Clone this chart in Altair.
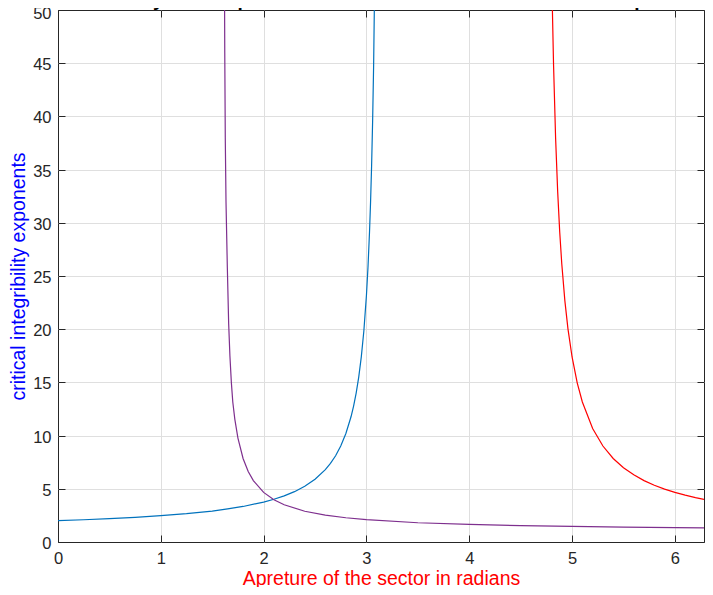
import altair as alt
import pandas as pd

# ---- data ----
blue_x = [0.0, 0.25, 0.5, 0.75, 1.0, 1.25, 1.5, 1.65, 1.8, 2.0, 2.1, 2.2, 2.3, 2.4, 2.5, 2.6,
          2.65, 2.7, 2.75, 2.8, 2.85, 2.875, 2.9, 2.925, 2.95, 2.975, 3.0, 3.015, 3.03, 3.04,
          3.05, 3.06, 3.07, 3.085]
blue_y = [2.00, 2.09, 2.19, 2.31, 2.47, 2.66, 2.91, 3.11, 3.34, 3.75, 4.02, 4.34, 4.73, 5.24, 5.90, 6.80,
          7.39, 8.11, 9.02, 10.20, 11.77, 12.78, 14.00, 15.50, 17.40, 19.86, 23.19, 25.82, 29.15, 31.92,
          35.30, 39.50, 44.88, 56.5]

purple_x = [1.618, 1.622, 1.627, 1.634, 1.647, 1.66, 1.672, 1.686, 1.70, 1.72, 1.75, 1.8, 1.85, 1.9,
            2.0, 2.1, 2.2, 2.4, 2.6, 2.8, 3.0, 3.5, 4.0, 4.5, 5.0, 5.5, 6.0, 6.2832]
purple_y = [56.0, 46.0, 38.0, 32.0, 25.8, 20.5, 17.5, 15.0, 13.16, 11.53, 9.77, 7.85, 6.63, 5.77,
            4.66, 3.97, 3.50, 2.89, 2.53, 2.28, 2.10, 1.81, 1.65, 1.54, 1.46, 1.40, 1.35, 1.33]

red_x = [4.800, 4.808, 4.82, 4.84, 4.86, 4.88, 4.9, 4.93, 4.96, 5.0, 5.05, 5.1, 5.2, 5.3, 5.4, 5.5,
         5.6, 5.7, 5.8, 5.9, 6.0, 6.1, 6.2, 6.2832]
red_y = [54.8, 50.3, 44.8, 37.93, 32.93, 29.12, 26.12, 22.66, 20.03, 17.39, 14.96, 13.16, 10.66, 9.02,
         7.85, 6.98, 6.31, 5.77, 5.33, 4.97, 4.66, 4.40, 4.17, 4.00]

series_names = ["blue", "purple", "red"]
series_colors = ["#0072BD", "#7E2F8E", "#FF0000"]

x_ticks = [0, 1, 2, 3, 4, 5, 6]
y_ticks = [0, 5, 10, 15, 20, 25, 30, 35, 40, 45, 50]
x_domain = [0, 6.283185307]
y_domain = [0, 50]

title_text = "Invertibility of the operator T in the case of the sector for the Laplacian"
x_title = "Apreture of the sector in radians"
y_title = "critical integribility exponents"

rows = []
for name, xs, ys in zip(series_names, [blue_x, purple_x, red_x], [blue_y, purple_y, red_y]):
    for i, (a, b) in enumerate(zip(xs, ys)):
        rows.append({"series": name, "order": i, "x": a, "y": b})
df = pd.DataFrame(rows)

FONT = "Liberation Sans"
AX = "#262626"
GRID = "#dfdfdf"

xscale = alt.Scale(domain=x_domain, nice=False, zero=False)
yscale = alt.Scale(domain=y_domain, nice=False, zero=False)

main_x_axis = alt.Axis(
    values=x_ticks, format="d", grid=True, gridColor=GRID, gridWidth=1,
    gridOpacity={"condition": {"test": "datum.value === 0", "value": 0}, "value": 1},
    ticks=False, tickSize=0, domain=False, labelPadding=8, labelFontSize=16.5,
    labelColor=AX, labelFont=FONT, labelFlush=False, labelOverlap=False,
    titleColor="#FF0000", titleFontSize=19.5, titleFontWeight="normal", titleFont=FONT,
    titleY=42, titleBaseline="alphabetic", zindex=0,
)
main_y_axis = alt.Axis(
    values=y_ticks, format="d", grid=True, gridColor=GRID, gridWidth=1,
    gridOpacity={"condition": {"test": "datum.value === 0 || datum.value === 50", "value": 0}, "value": 1},
    ticks=False, tickSize=0, domain=False, labelPadding=7, labelFontSize=16.5,
    labelOffset={"condition": {"test": "datum.value === 50", "value": 3.5}, "value": 1.5},
    labelColor=AX, labelFont=FONT, labelFlush=False, labelOverlap=False,
    titleColor="#0000FF", titleFontSize=19.5, titleFontWeight="normal", titleFont=FONT,
    titleX=-34, titleBaseline="alphabetic", zindex=0,
)

lines = alt.Chart(df).mark_line(strokeWidth=1.2, clip=True).encode(
    x=alt.X("x:Q", scale=xscale, axis=main_x_axis, title=x_title),
    y=alt.Y("y:Q", scale=yscale, axis=main_y_axis, title=y_title),
    color=alt.Color("series:N", scale=alt.Scale(domain=series_names, range=series_colors), legend=None),
    order="order:Q",
)


def tick_axis(orient, values):
    return alt.Axis(orient=orient, values=values, offset=-7, tickSize=7, ticks=True,
                    tickColor=AX, tickWidth=1, labels=False, domain=False, grid=False, zindex=0)


ticks_bl = alt.Chart(df).mark_point(opacity=0).encode(
    x=alt.X("x:Q", scale=xscale, axis=tick_axis("bottom", x_ticks), title=None),
    y=alt.Y("y:Q", scale=yscale, axis=tick_axis("left", y_ticks), title=None),
)
ticks_tr = alt.Chart(df).mark_point(opacity=0).encode(
    x=alt.X("x:Q", scale=xscale, axis=tick_axis("top", x_ticks), title=None),
    y=alt.Y("y:Q", scale=yscale, axis=tick_axis("right", y_ticks), title=None),
)

title_df = pd.DataFrame({"t": [title_text]})
title_layer = alt.Chart(title_df).mark_text(
    font=FONT, fontSize=19, fontWeight="bold", color="#000000", baseline="alphabetic", align="center"
).encode(x=alt.value(323), y=alt.value(-4.5), text="t:N")

chart = alt.layer(lines, ticks_bl, ticks_tr, title_layer).resolve_axis(
    x="independent", y="independent"
).properties(
    width=646, height=532,
    autosize=alt.AutoSizeParams(type="none"),
    padding={"left": 50, "top": 2, "right": 1, "bottom": 45},
).configure_view(stroke=AX, strokeWidth=1)

chart.save("out.html", embed_options={"renderer": "svg", "actions": False})
